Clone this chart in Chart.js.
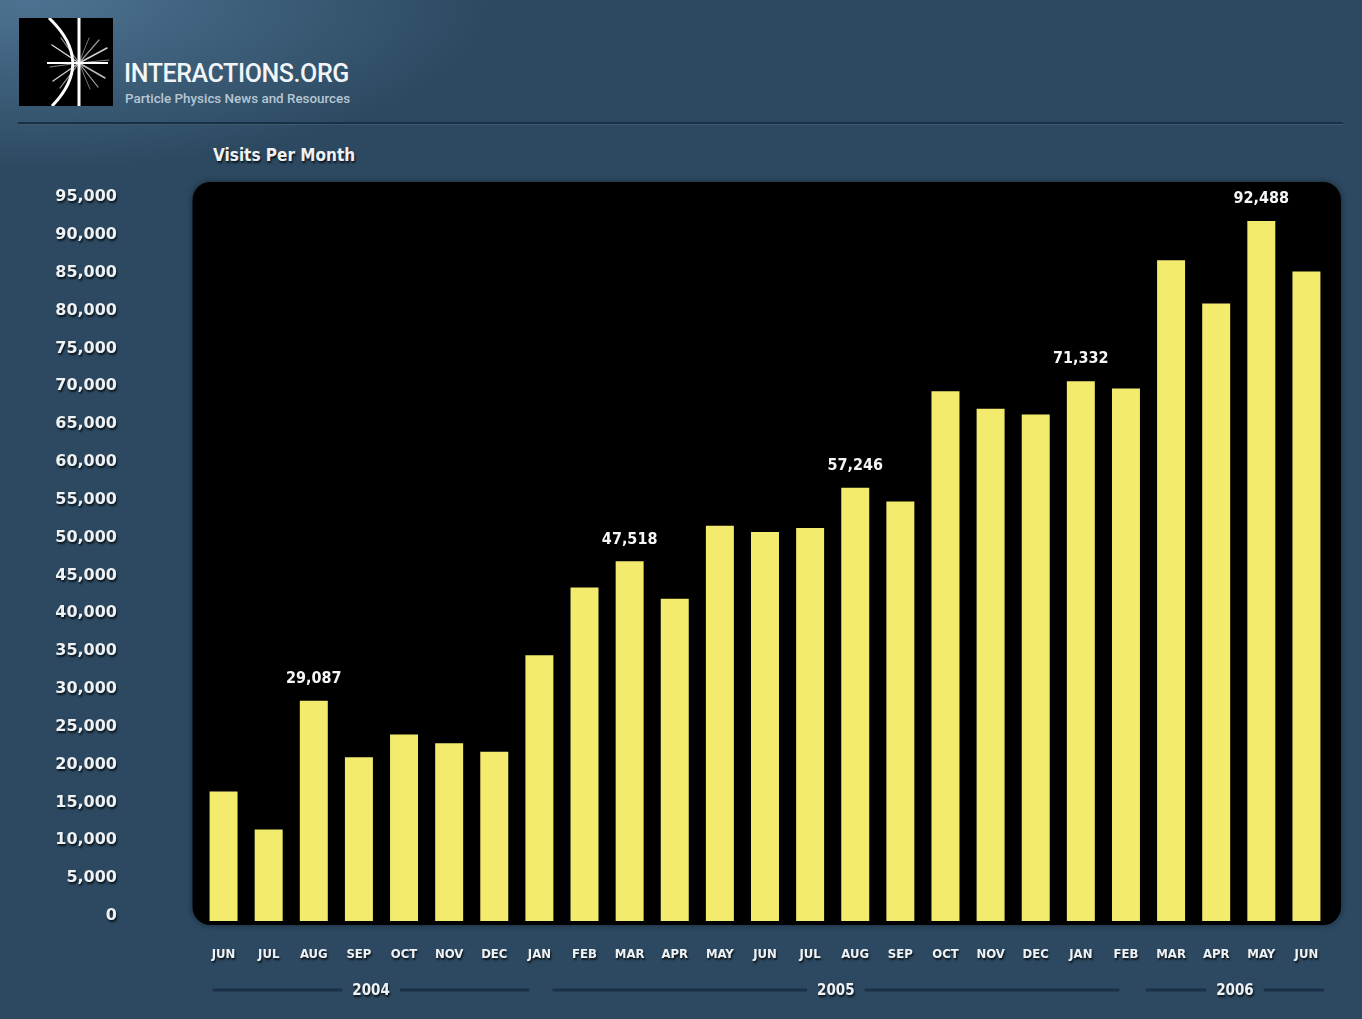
<!DOCTYPE html>
<html lang="en">
<head>
    <meta charset="UTF-8">
    <title>Visits Per Month | Interactions.org</title>
    <script src="https://cdn.jsdelivr.net/npm/chart.js"></script>
    <style>
        html, body {
            margin: 0;
            width: 1362px;
            height: 1019px;
            overflow: hidden;
        }
        body {
            position: relative;
            background-color: #2c4961;
            background-image: radial-gradient(ellipse 460px 170px at 30px 0px, rgba(110, 155, 192, 0.5), rgba(110, 155, 192, 0) 100%);
            font-family: "DejaVu Sans Condensed", "DejaVu Sans", sans-serif;
        }
        .logo {
            position: absolute;
            left: 19px;
            top: 18px;
            width: 94px;
            height: 88px;
        }
        .brand {
            position: absolute;
            left: 124px;
            top: 58px;
            color: #f2f5f7;
            font-family: Roboto, "Liberation Sans", sans-serif;
        }
        .brand .name {
            font-size: 25px;
            font-weight: 500;
            letter-spacing: -0.4px;
            line-height: 32px;
        }
        .brand .tag {
            font-size: 13.4px;
            font-weight: 500;
            color: #b7c7d4;
            line-height: 17px;
            margin-left: 1px;
        }
        .rule {
            position: absolute;
            left: 18px;
            top: 122px;
            width: 1325px;
            height: 2px;
            background: #1a3144;
            border-bottom: 1px solid #3a5a74;
        }
        .chart-title {
            position: absolute;
            left: 213px;
            top: 144px;
            margin: 0;
            font-size: 17px;
            line-height: 22px;
            font-weight: bold;
            color: #eef2f5;
            text-shadow: 1px 2px 2px rgba(0, 0, 0, 0.75);
        }
        .chart-wrap {
            position: absolute;
            left: 0;
            top: 130px;
            width: 1362px;
            height: 889px;
        }
    </style>
</head>
<body>
    <div class="logo">
        <svg width="94" height="88" viewBox="0 0 94 88">
            <rect width="94" height="88" fill="#000"/>
            <g stroke-linecap="round">
                <line x1="60" y1="45" x2="88" y2="30" stroke="#cfcfcf" stroke-width="1.5"/>
                <line x1="60" y1="45" x2="86" y2="60" stroke="#bdbdbd" stroke-width="1.5"/>
                <line x1="60" y1="45" x2="80" y2="22" stroke="#9a9a9a" stroke-width="1.2"/>
                <line x1="60" y1="45" x2="79" y2="69" stroke="#a8a8a8" stroke-width="1.2"/>
                <line x1="60" y1="45" x2="33" y2="27" stroke="#d6d6d6" stroke-width="1.5"/>
                <line x1="60" y1="45" x2="34" y2="63" stroke="#c4c4c4" stroke-width="1.5"/>
                <line x1="60" y1="45" x2="42" y2="20" stroke="#8f8f8f" stroke-width="1.2"/>
                <line x1="60" y1="45" x2="41" y2="70" stroke="#9c9c9c" stroke-width="1.2"/>
                <line x1="60" y1="45" x2="70" y2="20" stroke="#777" stroke-width="1"/>
                <line x1="60" y1="45" x2="71" y2="71" stroke="#777" stroke-width="1"/>
                <line x1="60" y1="45" x2="90" y2="42" stroke="#888" stroke-width="1"/>
                <line x1="60" y1="45" x2="31" y2="49" stroke="#888" stroke-width="1"/>
            </g>
            <line x1="28" y1="45" x2="89" y2="45" stroke="#fff" stroke-width="2"/>
            <path d="M30 0 Q76 44 33 88" stroke="#fff" stroke-width="3" fill="none"/>
            <line x1="60" y1="0" x2="60" y2="88" stroke="#fff" stroke-width="3"/>
        </svg>
    </div>
    <div class="brand">
        <div class="name">INTERACTIONS.ORG</div>
        <div class="tag">Particle Physics News and Resources</div>
    </div>
    <div class="rule"></div>
    <h2 class="chart-title">Visits Per Month</h2>
    <div class="chart-wrap">
        <canvas id="visitsChart"></canvas>
    </div>

<script>
    // Monthly visits, June 2004 - June 2006
    const months = ['JUN', 'JUL', 'AUG', 'SEP', 'OCT', 'NOV', 'DEC',
        'JAN', 'FEB', 'MAR', 'APR', 'MAY', 'JUN', 'JUL', 'AUG', 'SEP', 'OCT', 'NOV', 'DEC',
        'JAN', 'FEB', 'MAR', 'APR', 'MAY', 'JUN'];
    const visits = [17120, 12100, 29087, 21620, 24640, 23480, 22350,
        35120, 44060, 47518, 42590, 52220, 51410, 51930, 57246, 55420, 69990, 67670, 66930,
        71332, 70350, 87290, 81580, 92488, 85830];

    // bars that carry a value label
    const labelledBars = [2, 9, 14, 19, 23];

    // year rows under the months; rules run between these bar indexes
    const years = ['2004', '2005', '2006'];
    const yearFrom = [-0.24, 7.29, 20.44];
    const yearTo = [6.78, 19.85, 24.39];

    const yMax = 95000;
    const yStep = 5000;

    const textColor = '#eef2f5';
    const shadowColor = 'rgba(0, 0, 0, 0.75)';

    function fmt(v) {
        return v.toLocaleString('en-US');
    }

    // black rounded panel behind the bars, text shadow for the axes
    const panelPlugin = {
        id: 'panel',
        beforeDraw(chart) {
            const { ctx, chartArea } = chart;
            const x = chartArea.left - 8.5;
            const y = chartArea.top - 20;
            const w = chartArea.right + 12 - x;
            const h = chartArea.bottom + 4 - y;
            ctx.save();
            ctx.shadowColor = 'rgba(0, 0, 0, 0.45)';
            ctx.shadowBlur = 6;
            ctx.fillStyle = '#000';
            ctx.beginPath();
            ctx.roundRect(x, y, w, h, 18);
            ctx.fill();
            ctx.restore();

            ctx.shadowColor = shadowColor;
            ctx.shadowBlur = 2;
            ctx.shadowOffsetX = 1;
            ctx.shadowOffsetY = 2;
        },
        beforeDatasetsDraw(chart) {
            const ctx = chart.ctx;
            ctx.shadowColor = 'transparent';
            ctx.shadowBlur = 0;
            ctx.shadowOffsetX = 0;
            ctx.shadowOffsetY = 0;
        },
        afterDatasetsDraw(chart) {
            const ctx = chart.ctx;
            const meta = chart.getDatasetMeta(0);
            ctx.save();
            ctx.font = 'bold 16px "DejaVu Sans Condensed", "DejaVu Sans", sans-serif';
            ctx.fillStyle = '#f4f6f7';
            ctx.textAlign = 'center';
            ctx.textBaseline = 'middle';
            labelledBars.forEach(function (i) {
                const bar = meta.data[i];
                ctx.fillText(fmt(visits[i]), bar.x, bar.y - 22);
            });
            ctx.restore();
        },
        afterDraw(chart) {
            const ctx = chart.ctx;
            const xs = chart.scales.x;
            const step = xs.getPixelForValue(1) - xs.getPixelForValue(0);
            const lineY = chart.chartArea.bottom + 69;
            ctx.save();
            ctx.font = 'bold 15px "DejaVu Sans Condensed", "DejaVu Sans", sans-serif';
            ctx.textAlign = 'center';
            ctx.textBaseline = 'middle';
            years.forEach(function (yr, k) {
                const x0 = xs.getPixelForValue(0) + yearFrom[k] * step;
                const x1 = xs.getPixelForValue(0) + yearTo[k] * step;
                const mid = (x0 + x1) / 2;
                const half = ctx.measureText(yr).width / 2 + 10;
                ctx.strokeStyle = '#1a3146';
                ctx.lineWidth = 3;
                ctx.beginPath();
                ctx.moveTo(x0, lineY);
                ctx.lineTo(mid - half, lineY);
                ctx.moveTo(mid + half, lineY);
                ctx.lineTo(x1, lineY);
                ctx.stroke();

                ctx.shadowColor = shadowColor;
                ctx.shadowBlur = 2;
                ctx.shadowOffsetX = 1;
                ctx.shadowOffsetY = 2;
                ctx.fillStyle = textColor;
                ctx.fillText(yr, mid, lineY + 1);
                ctx.shadowColor = 'transparent';
            });
            ctx.restore();
        }
    };

    const ctx = document.getElementById('visitsChart').getContext('2d');
    new Chart(ctx, {
        type: 'bar',
        data: {
            labels: months,
            datasets: [{
                label: 'Visits',
                data: visits,
                backgroundColor: '#f3eb6e',
                borderWidth: 0,
                barPercentage: 0.62,
                categoryPercentage: 1
            }]
        },
        options: {
            responsive: true,
            maintainAspectRatio: false,
            animation: false,
            layout: {
                padding: { top: 72, right: 33, bottom: 0, left: 0 }
            },
            plugins: {
                legend: { display: false },
                tooltip: { enabled: false }
            },
            scales: {
                x: {
                    grid: { display: false, drawTicks: false },
                    border: { display: false },
                    ticks: {
                        color: textColor,
                        padding: 26,
                        maxRotation: 0,
                        autoSkip: false,
                        font: { family: '"DejaVu Sans Condensed", "DejaVu Sans", sans-serif', size: 13, weight: 'bold' }
                    },
                    afterFit(scale) {
                        scale.height = 98;
                    }
                },
                y: {
                    min: 0,
                    max: yMax,
                    grid: { display: false, drawTicks: false },
                    border: { display: false },
                    ticks: {
                        stepSize: yStep,
                        color: textColor,
                        padding: 84,
                        labelOffset: -5,
                        font: { family: '"DejaVu Sans", sans-serif', size: 16, weight: 'bold' },
                        callback: function (v) { return fmt(v); }
                    },
                    afterFit(scale) {
                        // the big label gap should not push the plot down
                        scale.width = 201;
                        scale.paddingTop = 0;
                        scale.paddingBottom = 0;
                    }
                }
            }
        },
        plugins: [panelPlugin]
    });
</script>
</body>
</html>
